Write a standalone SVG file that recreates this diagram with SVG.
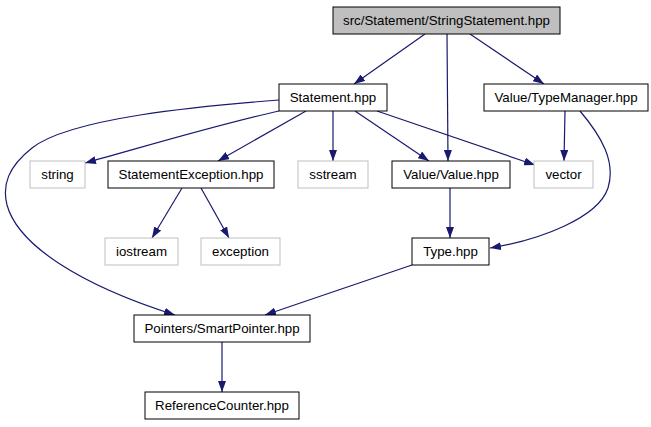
<svg xmlns="http://www.w3.org/2000/svg" width="651" height="427" viewBox="0 0 651 427">
<defs>
<marker id="ah" viewBox="0 0 11 8" refX="11" refY="4" markerWidth="11" markerHeight="8" markerUnits="userSpaceOnUse" orient="auto">
<path d="M0,0 L11,4 L0,8 Z" fill="#191970"/>
</marker>
<style>
.n rect{fill:#fff;stroke:#000;stroke-width:1}
.g rect{fill:#fff;stroke:#bfbfbf;stroke-width:1}
.root rect{fill:#bfbfbf;stroke:#000;stroke-width:1}
text{font-family:"Liberation Sans",Arial,sans-serif;font-size:13.3px;text-anchor:middle;fill:#000}
.e path{fill:none;stroke:#191970;stroke-width:1.2;marker-end:url(#ah)}
</style>
</defs>
<rect width="651" height="427" fill="#fff"/>
<g class="e" id="edges">
<path d="M425,34 L354,84"/>
<path d="M447,34 L448,161"/>
<path d="M470,34 L544,84"/>
<path d="M279,111 C 220,124 150,145 85,163"/>
<path d="M306,111 L218,161"/>
<path d="M333,111 L333,161"/>
<path d="M355,111 L429,161"/>
<path d="M377,111 L535,165"/>
<path d="M279,100 C 200,106 70,118 32,148 C 8,167 2,185 7,205 C 18,245 80,285 175,315"/>
<path d="M565,111 L564,161"/>
<path d="M580,111 C 602,137 616,162 608,188 C 598,218 540,240 490,248"/>
<path d="M450,188 L450,238"/>
<path d="M182,188 L152,238"/>
<path d="M201,188 L229,238"/>
<path d="M412,265 L265,315"/>
<path d="M222,342 L222,392"/>
</g>
<g id="node-root" class="root"><rect x="333" y="7" width="227" height="27"/><text x="446.5" y="25">src/Statement/StringStatement.hpp</text></g>
<g id="node-statement" class="n"><rect x="279" y="84" width="108" height="27"/><text x="333" y="102">Statement.hpp</text></g>
<g id="node-typemanager" class="n"><rect x="484" y="84" width="164" height="27"/><text x="566" y="102">Value/TypeManager.hpp</text></g>
<g id="node-string" class="g"><rect x="30" y="161" width="55" height="27"/><text x="57.5" y="179">string</text></g>
<g id="node-statementexception" class="n"><rect x="108" y="161" width="166" height="27"/><text x="191" y="179">StatementException.hpp</text></g>
<g id="node-sstream" class="g"><rect x="298" y="161" width="70" height="27"/><text x="333" y="179">sstream</text></g>
<g id="node-value" class="n"><rect x="392" y="161" width="118" height="27"/><text x="451" y="179">Value/Value.hpp</text></g>
<g id="node-vector" class="g"><rect x="534" y="161" width="59" height="27"/><text x="563.5" y="179">vector</text></g>
<g id="node-iostream" class="g"><rect x="105" y="238" width="73" height="27"/><text x="141.5" y="256">iostream</text></g>
<g id="node-exception" class="g"><rect x="201" y="238" width="79" height="27"/><text x="240.5" y="256">exception</text></g>
<g id="node-type" class="n"><rect x="412" y="238" width="77" height="27"/><text x="450.5" y="256">Type.hpp</text></g>
<g id="node-smartpointer" class="n"><rect x="134" y="315" width="176" height="27"/><text x="222" y="333">Pointers/SmartPointer.hpp</text></g>
<g id="node-referencecounter" class="n"><rect x="145" y="392" width="154" height="27"/><text x="222" y="410">ReferenceCounter.hpp</text></g>
</svg>
